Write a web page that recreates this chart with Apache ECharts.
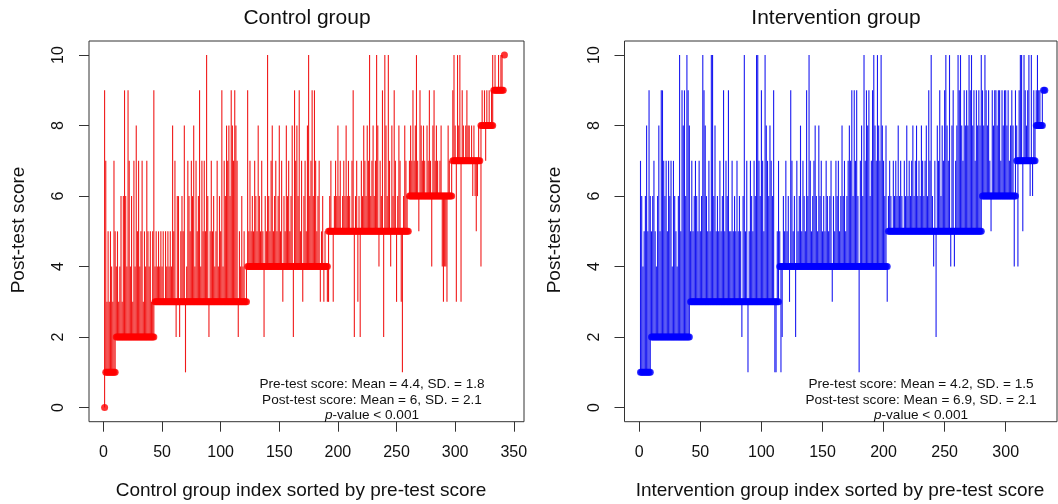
<!DOCTYPE html>
<html><head><meta charset="utf-8">
<script src="https://cdn.jsdelivr.net/npm/echarts@6/dist/echarts.min.js"></script>
<style>html,body{margin:0;padding:0;background:#fff}#c{width:1058px;height:504px}</style>
</head><body><div id="c"></div>
<script>
// ---------------- DATA ----------------
const controlPre = [
0,1,1,1,1,1,1,1,1,1,
2,2,2,2,2,2,2,2,2,2, 2,2,2,2,2,2,2,2,2,2, 2,2,2,2,2,2,2,2,2,2, 2,2,2,
3,3,3,3,3,3,3,3,3,3, 3,3,3,3,3,3,3,3,3,3, 3,3,3,3,3,3,3,3,3,3, 3,3,3,3,3,3,3,3,3,3,
3,3,3,3,3,3,3,3,3,3, 3,3,3,3,3,3,3,3,3,3, 3,3,3,3,3,3,3,3,3,3, 3,3,3,3,3,3,3,3,3,
4,4,4,4,4,4,4,4,4,4, 4,4,4,4,4,4,4,4,4,4, 4,4,4,4,4,4,4,4,4,4, 4,4,4,4,4,4,4,4,4,4,
4,4,4,4,4,4,4,4,4,4, 4,4,4,4,4,4,4,4,4,4, 4,4,4,4,4,4,4,4,4,
5,5,5,5,5,5,5,5,5,5, 5,5,5,5,5,5,5,5,5,5, 5,5,5,5,5,5,5,5,5,5, 5,5,5,5,5,5,5,5,5,5,
5,5,5,5,5,5,5,5,5,5, 5,5,5,5,5,5,5,5,5,5, 5,5,5,5,5,5,5,5,5,
6,6,6,6,6,6,6,6,6,6, 6,6,6,6,6,6,6,6,6,6, 6,6,6,6,6,6,6,6,6,6, 6,6,6,6,6,6,6,
7,7,7,7,7,7,7,7,7,7, 7,7,7,7,7,7,7,7,7,7, 7,7,7,7,
8,8,8,8,8,8,8,8,8,8, 8,
9,9,9,9,9,9,9,9,9,
10
];
const controlPost = [
9,7,3,5,3,5,4,3,7,5,
4,5,3,4,6,3,6,9,6,4, 9,7,4,6,3,7,4,8,5,7, 4,5,7,3,5,4,7,5,4,5, 3,5,9,
4,5,4,5,4,5,4,5,3,5, 4,5,4,5,4,8,5,7,2,6, 6,2,5,6,5,8,1,4,7,6, 5,7,6,8,4,7,5,6,9,4,
7,5,7,5,10,6,2,5,7,5, 6,4,5,7,4,6,5,9,4,7, 6,8,7,8,6,9,8,7,9,8, 7,2,5,4,6,4,5,3,4,
9,5,7,5,6,5,7,6,5,8, 6,5,7,5,2,6,5,10,6,5, 7,8,5,6,7,5,6,8,5,7, 3,6,5,8,6,7,5,6,8,2,
9,7,8,6,9,5,7,3,6,7, 5,8,10,6,7,9,6,9,7,5, 6,7,3,5,6,3,5,4,3,
3,6,7,5,3,6,7,6,8,6, 7,5,6,7,6,8,6,7,6,5, 7,9,2,6,7,3,6,2,7,6, 8,7,6,8,7,10,6,7,8,6,
7,10,8,4,7,6,9,2,10,8, 6,10,7,4,8,6,9,7,3,6, 8,7,3,1,6,8,7,6,5,
7,8,7,9,7,8,10,7,5,9, 8,7,8,7,6,8,7,9,7,4, 8,9,7,8,7,6,7,8,4,3, 4,4,3,8,7,6,7,
9,10,8,3,10,8,10,3,9,8, 7,8,9,8,8,7,8,6,8,6, 5,6,8,7,
4,9,8,9,7,9,8,9,8,9, 10,
9,10,9,9,10,9,10,10,9,
10
];
const interventionPre = [
1,1,1,1,1,1,1,1,1,
2,2,2,2,2,2,2,2,2,2, 2,2,2,2,2,2,2,2,2,2, 2,2,2,2,2,2,2,2,2,2, 2,2,
3,3,3,3,3,3,3,3,3,3, 3,3,3,3,3,3,3,3,3,3, 3,3,3,3,3,3,3,3,3,3, 3,3,3,3,3,3,3,3,3,3,
3,3,3,3,3,3,3,3,3,3, 3,3,3,3,3,3,3,3,3,3, 3,3,3,3,3,3,3,3,3,3, 3,3,3,
4,4,4,4,4,4,4,4,4,4, 4,4,4,4,4,4,4,4,4,4, 4,4,4,4,4,4,4,4,4,4, 4,4,4,4,4,4,4,4,4,4,
4,4,4,4,4,4,4,4,4,4, 4,4,4,4,4,4,4,4,4,4, 4,4,4,4,4,4,4,4,4,4, 4,4,4,4,4,4,4,4,4,4,
4,4,4,4,4,4,4,4,4,
5,5,5,5,5,5,5,5,5,5, 5,5,5,5,5,5,5,5,5,5, 5,5,5,5,5,5,5,5,5,5, 5,5,5,5,5,5,5,5,5,5,
5,5,5,5,5,5,5,5,5,5, 5,5,5,5,5,5,5,5,5,5, 5,5,5,5,5,5,5,5,5,5, 5,5,5,5,5,5,5,
6,6,6,6,6,6,6,6,6,6, 6,6,6,6,6,6,6,6,6,6, 6,6,6,6,6,6,6,6,
7,7,7,7,7,7,7,7,7,7, 7,7,7,7,7,7,
8,8,8,8,8,8,
9,9
];
const interventionPost = [
7,6,4,5,6,8,5,9,6,
5,6,7,5,4,6,8,5,9,9, 7,6,7,5,7,6,7,4,7,6, 5,4,6,10,5,9,8,9,6,10, 9,8,
5,7,5,6,7,6,5,7,5,6, 10,9,8,6,5,7,5,10,10,6, 8,5,6,5,7,5,6,9,5,7, 6,9,5,5,7,5,6,5,7,5,
6,5,2,6,10,5,7,1,5,7, 6,5,7,6,10,10,7,6,9,7, 5,10,8,7,6,8,7,6,9,1, 1,5,7,
5,1,2,6,5,7,5,6,3,9, 7,5,6,2,7,5,6,8,5,7, 6,5,9,6,10,7,5,6,7,8, 6,5,8,6,7,5,6,5,7,6,
5,6,7,3,6,5,7,6,7,5, 6,8,6,7,5,6,7,8,7,9, 6,9,7,9,6,1,7,8,6,10, 7,9,8,9,6,7,9,10,8,7,
10,8,7,10,8,7,6,8,3,
6,7,6,5,7,6,7,6,8,6, 7,6,5,7,6,8,6,7,6,7, 8,6,7,8,6,7,6,8,7,6, 7,8,6,9,7,10,6,4,7,2,
8,7,9,6,8,7,9,10,8,7, 10,4,8,9,4,7,8,10,9,10, 8,7,9,8,9,8,10,9,10,8, 9,7,9,8,9,8,10,
9,8,10,9,8,9,7,5,9,8, 9,9,8,9,9,7,9,8,9,9, 8,9,7,8,9,8,4,9,
8,4,9,10,10,5,10,9,8,9, 10,6,10,6,9,8,
9,10,9,9,8,9,
9,9
];
const xTicksControl = [0, 50, 100, 150, 200, 250, 300, 350];
const xTicksIntervention = [0, 50, 100, 150, 200, 250, 300];
const yTicks = [0, 2, 4, 6, 8, 10];
const panelTitles = ['Control group', 'Intervention group'];
const xTitles = ['Control group index sorted by pre-test score', 'Intervention group index sorted by pre-test score'];
const yTitle = 'Post-test score';
const statsControl = ['Pre-test score: Mean = 4.4, SD. = 1.8', 'Post-test score: Mean = 6, SD. = 2.1'];
const statsIntervention = ['Pre-test score: Mean = 4.2, SD. = 1.5', 'Post-test score: Mean = 6.9, SD. = 2.1'];
const pLabel = ['p', '-value < 0.001'];

if (controlPre.length !== controlPost.length) throw new Error('control length ' + controlPre.length + ' vs ' + controlPost.length);
if (interventionPre.length !== interventionPost.length) throw new Error('intervention length ' + interventionPre.length + ' vs ' + interventionPost.length);

// ---------------- CHART ----------------
const FONT = '"Liberation Sans", Arial, Helvetica, sans-serif';
const TXT = '#111';
const segData = (pre, post) => pre.map((p, i) => [i + 1, p, post[i]]);
const ptData = (pre) => pre.map((p, i) => [i + 1, p]);

function segRenderer(color) {
  return function (params, api) {
    const a = api.coord([api.value(0), api.value(1)]);
    const b = api.coord([api.value(0), api.value(2)]);
    return { type: 'line', shape: { x1: a[0], y1: a[1], x2: b[0], y2: b[1] },
      style: { stroke: color, lineWidth: 1.1 } };
  };
}

function xAxisCfg(gi, min, max, ticks) {
  return { gridIndex: gi, type: 'value', min: min, max: max,
    axisLine: { show: false, onZero: false }, splitLine: { show: false },
    axisTick: { show: true, inside: false, length: 10, customValues: ticks, lineStyle: { color: '#333', width: 1 } },
    axisLabel: { customValues: ticks, fontSize: 16, color: TXT, fontFamily: FONT, margin: 23 } };
}
function yAxisCfg(gi) {
  return { gridIndex: gi, type: 'value', min: -0.4, max: 10.4,
    axisLine: { show: false, onZero: false }, splitLine: { show: false },
    axisTick: { show: true, inside: false, length: 10, customValues: yTicks, lineStyle: { color: '#333', width: 1 } },
    axisLabel: { customValues: yTicks, fontSize: 16, color: TXT, fontFamily: FONT, rotate: 90, margin: 22 } };
}
function txt(x, y, text, size, extra) {
  return Object.assign({ type: 'text', x: x, y: y, silent: true,
    style: { text: text, font: size + 'px ' + FONT, fill: TXT, align: 'center', verticalAlign: 'middle',
      textAlign: 'center', textVerticalAlign: 'middle' } }, extra || {});
}
function pLine(x, y) {
  return { type: 'text', x: x, y: y, silent: true,
    style: { text: '{i|' + pLabel[0] + '}{n|' + pLabel[1] + '}', fill: TXT, align: 'center', verticalAlign: 'middle',
      textAlign: 'center', textVerticalAlign: 'middle', font: '13.6px ' + FONT,
      rich: { i: { fontStyle: 'italic', fontSize: 13.6, fontFamily: FONT, fill: TXT, color: TXT },
              n: { fontSize: 13.6, fontFamily: FONT, fill: TXT, color: TXT } } } };
}

const chart = echarts.init(document.getElementById('c'), null, { renderer: 'canvas' });
chart.setOption({
  animation: false,
  backgroundColor: '#fff',
  grid: [
    { left: 89, top: 41, width: 435, height: 380.7, show: true, borderColor: '#333', borderWidth: 1, backgroundColor: 'transparent' },
    { left: 624.5, top: 41, width: 432.5, height: 380.7, show: true, borderColor: '#333', borderWidth: 1, backgroundColor: 'transparent' }
  ],
  xAxis: [ xAxisCfg(0, -12.3, 358.7, xTicksControl), xAxisCfg(1, -12.1, 342, xTicksIntervention) ],
  yAxis: [ yAxisCfg(0), yAxisCfg(1) ],
  series: [
    { type: 'custom', xAxisIndex: 0, yAxisIndex: 0, data: segData(controlPre, controlPost),
      encode: { x: 0, y: [1, 2] }, renderItem: segRenderer('rgba(238,0,0,0.9)'), z: 2 },
    { type: 'scatter', xAxisIndex: 0, yAxisIndex: 0, data: ptData(controlPre), symbol: 'circle', symbolSize: 7,
      itemStyle: { color: '#ff0000' }, z: 3 },
    { type: 'custom', xAxisIndex: 1, yAxisIndex: 1, data: segData(interventionPre, interventionPost),
      encode: { x: 0, y: [1, 2] }, renderItem: segRenderer('rgba(0,0,238,0.9)'), z: 2 },
    { type: 'scatter', xAxisIndex: 1, yAxisIndex: 1, data: ptData(interventionPre), symbol: 'circle', symbolSize: 7,
      itemStyle: { color: '#0000ff' }, z: 3 }
  ],
  graphic: { elements: [
    txt(307, 18, panelTitles[0], 21),
    txt(836, 18, panelTitles[1], 21),
    txt(301, 491, xTitles[0], 19),
    txt(840, 491, xTitles[1], 19),
    txt(18.5, 230, yTitle, 19, { rotation: Math.PI / 2 }),
    txt(555, 230, yTitle, 19, { rotation: Math.PI / 2 }),
    txt(372, 384, statsControl[0], 13.6),
    txt(372, 400, statsControl[1], 13.6),
    pLine(372, 415.5),
    txt(921, 384, statsIntervention[0], 13.6),
    txt(921, 400, statsIntervention[1], 13.6),
    pLine(921, 415.5)
  ] }
});
</script>
</body></html>
